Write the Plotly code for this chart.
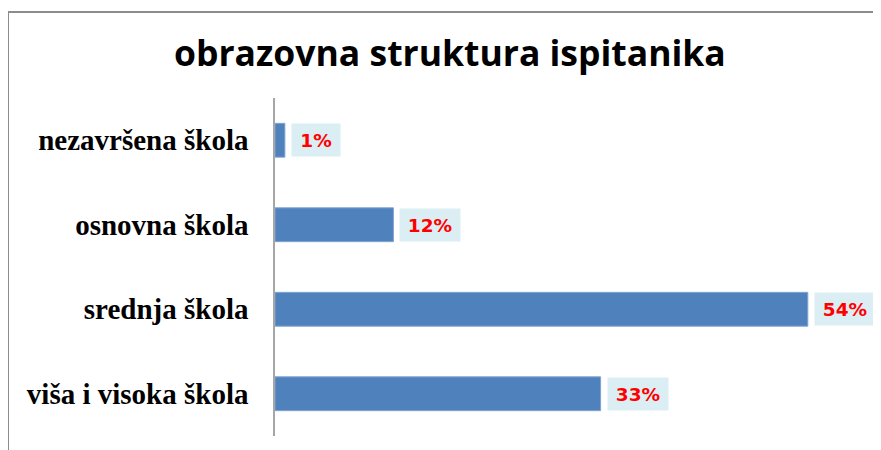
import plotly.graph_objects as go

categories = ["nezavršena škola", "osnovna škola", "srednja škola", "viša i visoka škola"]
values = [1, 12, 54, 33]
labels = ["1%", "12%", "54%", "33%"]
title_text = "obrazovna struktura ispitanika"

# page has an 8px body margin; figure coords = page coords - 8
OFF = 8
W, H = 881 - OFF, 450 - OFF
ml, mr, mt, mb = 275 - OFF, 14, 98 - OFF, 14

pw = W - ml - mr
ph = H - mt - mb
def px(xp):
    return (xp - OFF - ml) / pw
def py(yp):
    return (H - mb - (yp - OFF)) / ph

fig = go.Figure()
fig.add_trace(go.Bar(
    x=values, y=categories, orientation="h",
    marker=dict(color="#4F81BD", line=dict(color="#7FA3D0", width=1)),
    width=0.4, hoverinfo="skip",
))

for v, c, t in zip(values, categories, labels):
    fig.add_annotation(
        x=v, y=c, xref="x", yref="y", text=t, showarrow=False,
        xanchor="left", yanchor="middle", xshift=6,
        width=58 if len(t) > 2 else 46, height=30,
        bgcolor="#DBEEF4",
        font=dict(family="DejaVu Sans", size=18.5, color="#FF0000", weight="bold"),
    )

fig.add_annotation(
    x=px(449.5), y=py(52), xref="paper", yref="paper", text=title_text,
    showarrow=False, xanchor="center", yanchor="middle",
    font=dict(family="Open Sans", size=35.5, color="#000000", weight="bold"),
)

fig.add_shape(type="line", xref="paper", yref="paper", x0=px(8), x1=px(900), y0=py(12), y1=py(12),
              line=dict(color="#8C8C8C", width=2))
fig.add_shape(type="line", xref="paper", yref="paper", x0=px(8), x1=px(8), y0=py(12), y1=py(470),
              line=dict(color="#8C8C8C", width=2))

fig.update_layout(
    width=W, height=H,
    margin=dict(l=ml, r=mr, t=mt, b=mb),
    paper_bgcolor="white", plot_bgcolor="white",
    showlegend=False,
    xaxis=dict(range=[0, 60], visible=False, fixedrange=True),
    yaxis=dict(
        categoryorder="array", categoryarray=categories, autorange="reversed",
        showline=True, linecolor="#A6A6A6", linewidth=1.5, showgrid=False,
        ticks="", ticklabelstandoff=19,
        tickfont=dict(family="Liberation Serif", size=29, color="#000000", weight="bold"),
        fixedrange=True,
    ),
)

fig.write_html("out.html")
